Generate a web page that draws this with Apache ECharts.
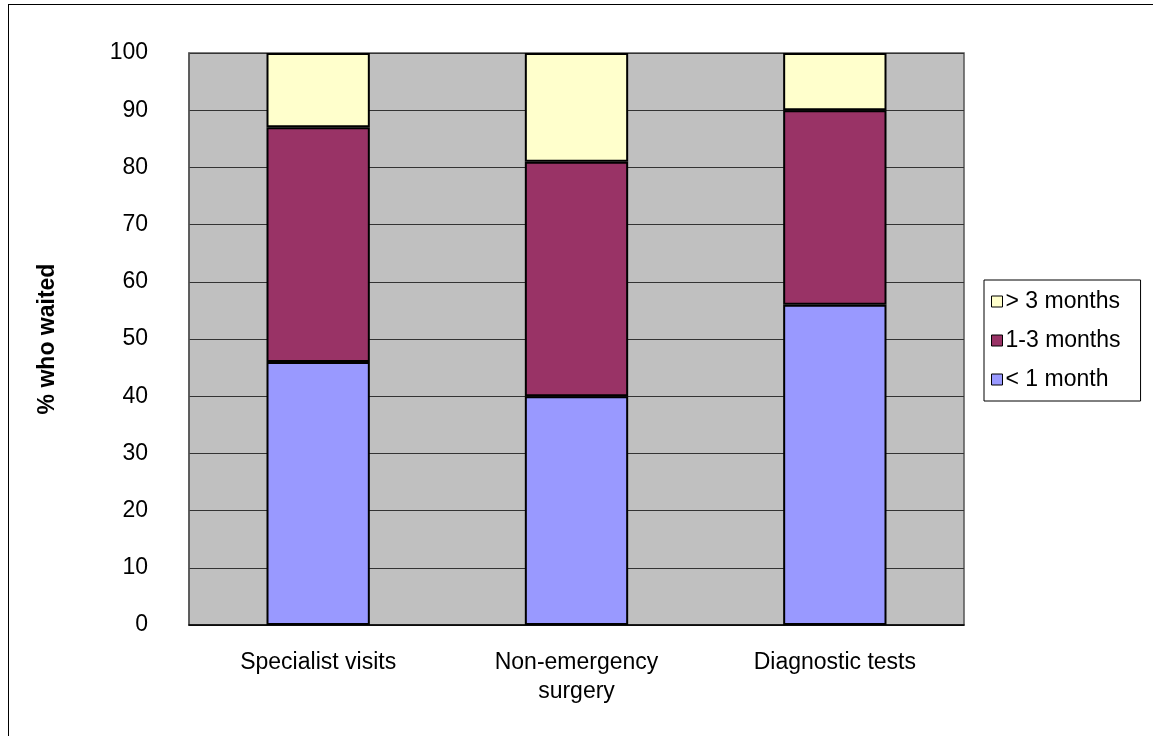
<!DOCTYPE html>
<html>
<head>
<meta charset="utf-8">
<script src="https://cdn.jsdelivr.net/npm/echarts@6/dist/echarts.min.js"></script>
<style>
html,body{margin:0;padding:0;background:#fff;overflow:hidden;}
#frame{position:absolute;left:8px;top:4px;width:1160px;height:760px;border-left:1.5px solid #000;border-top:1.5px solid #000;}
#chart{position:absolute;left:0;top:0;width:1153px;height:736px;}
</style>
</head>
<body>
<div id="frame"></div>
<div id="chart"></div>
<script>
const categories = ['Specialist visits', 'Non-emergency\nsurgery', 'Diagnostic tests'];
const lessThan1Month = [46, 40, 56];
const oneTo3Months = [41, 41, 34];
const moreThan3Months = [13, 19, 10];
const yTicks = [0, 10, 20, 30, 40, 50, 60, 70, 80, 90, 100];

const chart = echarts.init(document.getElementById('chart'));
const font = 'Liberation Sans, Arial, sans-serif';
const barStyle = c => ({color: c, borderColor: '#000', borderWidth: 2});
chart.setOption({
  animation: false,
  textStyle: {fontFamily: font},
  grid: {left: 189, right: 189, top: 53, bottom: 111, show: true, backgroundColor: '#C0C0C0', borderColor: '#555', borderWidth: 1.5},
  legend: {
    orient: 'vertical', left: 984, top: 280,
    data: ['> 3 months', '1-3 months', '< 1 month'],
    icon: 'rect', itemWidth: 11, itemHeight: 11, itemGap: 16,
    padding: [10, 20, 10, 7],
    borderColor: '#000', borderWidth: 1,
    textStyle: {fontSize: 23, color: '#000', fontFamily: font, padding: [0, 0, 0, -2]},
    itemStyle: {borderColor: '#000', borderWidth: 1}
  },
  xAxis: {
    type: 'category', data: categories,
    axisLine: {lineStyle: {color: '#000', width: 1.5}},
    axisTick: {show: false},
    axisLabel: {fontSize: 23, color: '#000', margin: 23, lineHeight: 29, fontFamily: font}
  },
  yAxis: {
    type: 'value', min: yTicks[0], max: yTicks[yTicks.length - 1], interval: 10,
    name: '% who waited', nameLocation: 'middle', nameGap: 130,
    nameTextStyle: {fontSize: 23, fontWeight: 'bold', color: '#000', fontFamily: font},
    axisLine: {show: true, lineStyle: {color: '#555', width: 1.5}},
    axisTick: {show: false},
    axisLabel: {fontSize: 23, color: '#000', margin: 41, fontFamily: font},
    splitLine: {lineStyle: {color: '#333', width: 1.2}}
  },
  series: [
    {name: '< 1 month', type: 'bar', stack: 's', data: lessThan1Month, barWidth: '40%', itemStyle: barStyle('#9999FF')},
    {name: '1-3 months', type: 'bar', stack: 's', data: oneTo3Months, itemStyle: barStyle('#993366')},
    {name: '> 3 months', type: 'bar', stack: 's', data: moreThan3Months, itemStyle: barStyle('#FFFFCC')}
  ]
});
</script>
</body>
</html>
